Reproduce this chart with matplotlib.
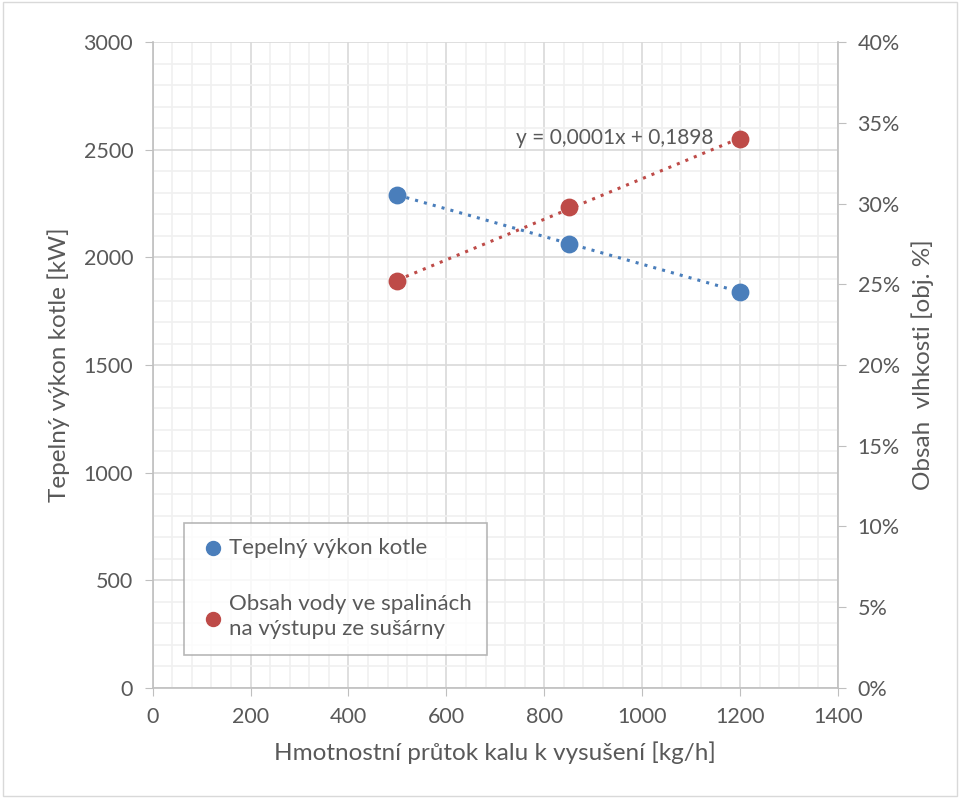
import numpy as np
import matplotlib.pyplot as plt
from matplotlib.ticker import MultipleLocator, PercentFormatter

plt.rcParams['font.family'] = ['Lato', 'DejaVu Sans']

# data
prutok = [500, 850, 1200]
vykon = [2290, 2065, 1840]
vlhkost = [0.252, 0.298, 0.340]

blue = '#4a7ebb'
red = '#be4b48'
txt = '#595959'

fig = plt.figure(figsize=(9.6, 7.98), dpi=100)
fig.patches.append(plt.Rectangle((0.003, 0.003), 0.994, 0.994, transform=fig.transFigure,
                                 fill=False, edgecolor='#d9d9d9', lw=1))
ax = fig.add_axes([0.159, 0.138, 0.714, 0.809])
ax2 = ax.twinx()

ax.set_xlim(0, 1400)
ax.set_ylim(0, 3000)
ax2.set_ylim(0, 0.40)

ax.xaxis.set_major_locator(MultipleLocator(200))
ax.xaxis.set_minor_locator(MultipleLocator(40))
ax.yaxis.set_major_locator(MultipleLocator(500))
ax.yaxis.set_minor_locator(MultipleLocator(100))
ax2.yaxis.set_major_locator(MultipleLocator(0.05))
ax2.yaxis.set_major_formatter(PercentFormatter(1.0, decimals=0))

ax.grid(which='major', color='#d9d9d9', lw=1.2)
ax.grid(which='minor', color='#f0f0f0', lw=1.2)
ax.set_axisbelow(True)

for a in (ax, ax2):
    for s in a.spines.values():
        s.set_visible(False)
ax.spines['left'].set_visible(True)
ax.spines['bottom'].set_visible(True)
ax2.spines['right'].set_visible(True)
for s in (ax.spines['left'], ax.spines['bottom'], ax2.spines['right']):
    s.set_color('#bfbfbf')
    s.set_linewidth(1.2)

ax.tick_params(which='major', length=6, color='#bfbfbf', labelsize=15.5, labelcolor=txt, pad=8)
ax.tick_params(which='minor', length=0)
ax2.tick_params(which='major', length=6, color='#bfbfbf', labelsize=15.5, labelcolor=txt, pad=8)

# linear trendlines
x = np.array(prutok)
p1 = np.polyfit(x, vykon, 1)
p2 = np.polyfit(x, vlhkost, 1)
ax.plot(x, np.polyval(p1, x), ls=(0, (1, 2)), color=blue, lw=2.2, zorder=2)
ax2.plot(x, np.polyval(p2, x), ls=(0, (1, 2)), color=red, lw=2.2, zorder=2)

h1 = ax.scatter(prutok, vykon, s=140, color=blue, zorder=3, label='Tepelný výkon kotle')
h2 = ax2.scatter(prutok, vlhkost, s=140, color=red, zorder=3,
                 label='Obsah vody ve spalinách\nna výstupu ze sušárny')

ax2.text(1145, 0.3405, 'y = 0,0001x + 0,1898', ha='right', va='center', fontsize=15, color=txt)

ax.set_xlabel('Hmotnostní průtok kalu k vysušení [kg/h]', fontsize=17.5, color=txt, labelpad=10)
ax.set_ylabel('Tepelný výkon kotle [kW]', fontsize=17.5, color=txt, labelpad=10)
ax2.set_ylabel('Obsah  vlhkosti [obj. %]', fontsize=17.5, color=txt, labelpad=8)

leg = ax2.legend(handles=[h1, h2], loc='lower left', bbox_to_anchor=(0.03, 0.034),
                 fontsize=16, frameon=True, fancybox=False, edgecolor='#a6a6a6',
                 labelcolor=txt, handletextpad=0.1, borderpad=0.7, labelspacing=1.6,
                 markerscale=0.85, handlelength=1.2)
for t in leg.get_texts():
    t.set_linespacing(1.35)
leg.get_frame().set_linewidth(1.2)

plt.savefig('out.png', dpi=100)
